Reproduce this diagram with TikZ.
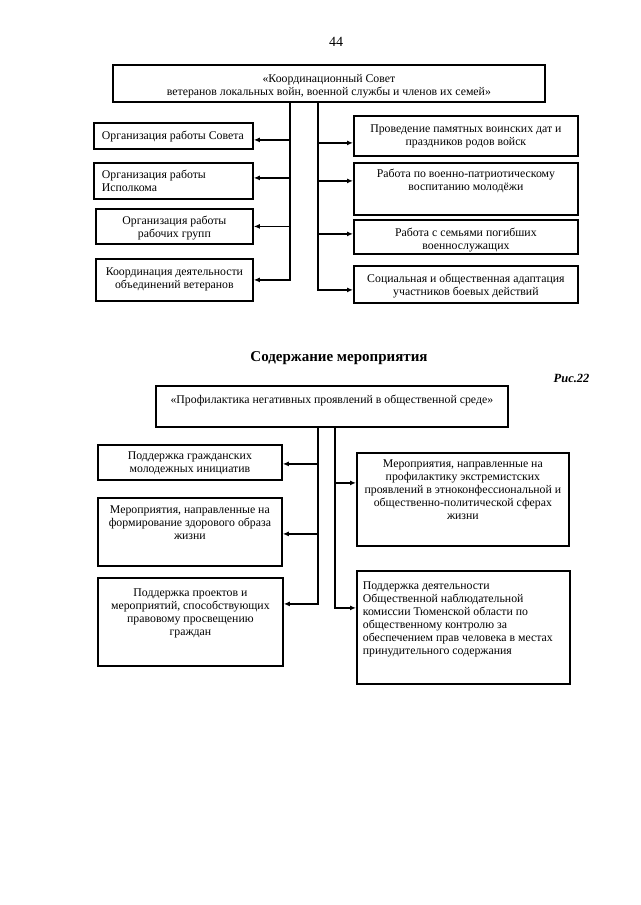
\documentclass[tikz,border=0pt]{standalone}
\usepackage{fontspec}
\setmainfont{Liberation Serif}
\usetikzlibrary{arrows.meta}
\tikzset{box/.style = {draw, line width=1.8pt, anchor=north west, inner sep=0pt,
                       font=\fontsize{11.8}{13}\selectfont},
         link/.style = {line width=1.4pt, -{Latex[length=6pt,width=5pt]}}}
\newcommand{\cell}[4]{\parbox[t][#2pt][t]{#1pt}{\vspace*{#3pt}#4}}

\begin{document}
\begin{tikzpicture}[x=1pt, y=-1pt]
    \useasboundingbox (0, 0) rectangle (640, 905);
    \node (page) at (336, 42) {\fontsize{14}{16}\selectfont 44};

    \node [box] (coord) at (112, 64) {\cell{432}{37}{9.5}{\centering «Координационный Совет\\ветеранов локальных войн, военной службы и членов их семей»}};

    \node [box] (L1) at (93, 122) {\cell{159}{26}{8.5}{\raggedright\leftskip=8pt Организация работы Совета}};
    \node [box] (L2) at (93, 162) {\cell{159}{36}{7.5}{\raggedright\leftskip=8pt Организация работы\\Исполкома}};
    \node [box] (L3) at (95, 208) {\cell{157}{35}{7}{\centering Организация работы\\рабочих групп}};
    \node [box] (L4) at (95, 258) {\cell{157}{42}{9}{\centering Координация деятельности\\объединений ветеранов}};

    \node [box] (R1) at (353, 115) {\cell{224}{40}{8.5}{\centering Проведение памятных воинских дат и\\праздников родов войск}};
    \node [box] (R2) at (353, 162) {\cell{224}{52}{6}{\centering Работа по военно-патриотическому\\воспитанию молодёжи}};
    \node [box] (R3) at (353, 219) {\cell{224}{34}{8}{\centering Работа с семьями погибших\\военнослужащих}};
    \node [box] (R4) at (353, 265) {\cell{224}{37}{8}{\centering Социальная и общественная адаптация\\участников боевых действий}};

    \coordinate (topL) at (290, 0);
    \coordinate (topR) at (318, 0);
    \draw [link] (coord.south -| topL) |- (L4.east);
    \foreach \b/\s in {L1/-4, L2/3, L3/0} {
      \draw [link] ([yshift=\s pt]\b.east -| topL) -- ([yshift=\s pt]\b.east);
    }
    \draw [link] (coord.south -| topR) |- ([yshift=-5.5pt]R4.west);
    \foreach \b/\s in {R1/-7, R2/8, R3/3} {
      \draw [link] ([yshift=\s pt]\b.west -| topR) -- ([yshift=\s pt]\b.west);
    }

    \node [font=\bfseries\fontsize{15}{17}\selectfont] (title) at (339, 358) {Содержание мероприятия};
    \node [anchor=east, font=\bfseries\itshape\fontsize{12.5}{14}\selectfont] (fig) at (593, 378) {Рис.22};

    \node [box] (prev) at (155, 385) {\cell{352}{41}{9.5}{\centering «Профилактика негативных проявлений в общественной среде»}};

    \node [box] (LL1) at (97, 444) {\cell{184}{35}{7}{\centering Поддержка гражданских\\молодежных инициатив}};
    \node [box] (LL2) at (97, 497) {\cell{184}{68}{8}{\centering Мероприятия, направленные на\\формирование здорового образа\\жизни}};
    \node [box] (LL3) at (97, 577) {\cell{185}{88}{10.5}{\centering Поддержка проектов и\\мероприятий, способствующих\\правовому просвещению\\граждан}};

    \node [box] (RL1) at (356, 452) {\cell{212}{93}{7}{\centering Мероприятия, направленные на\\профилактику экстремистских\\проявлений в этноконфессиональной и\\общественно-политической сферах\\жизни}};
    \node [box] (RL2) at (356, 570) {\cell{213}{113}{10.5}{\raggedright\leftskip=6pt Поддержка деятельности\\Общественной наблюдательной\\комиссии Тюменской области по\\общественному контролю за\\обеспечением прав человека в местах\\принудительного содержания}};

    \coordinate (lowL) at (318, 0);
    \coordinate (lowR) at (335, 0);
    \draw [link] (prev.south -| lowL) |- ([yshift=18pt]LL3.east);
    \foreach \b/\s in {LL1/-1.5, LL2/-2} {
      \draw [link] ([yshift=\s pt]\b.east -| lowL) -- ([yshift=\s pt]\b.east);
    }
    \draw [link] (prev.south -| lowR) |- ([yshift=19.5pt]RL2.west);
    \draw [link] ([yshift=16.5pt]RL1.west -| lowR) -- ([yshift=16.5pt]RL1.west);
  \end{tikzpicture}
\end{document}
